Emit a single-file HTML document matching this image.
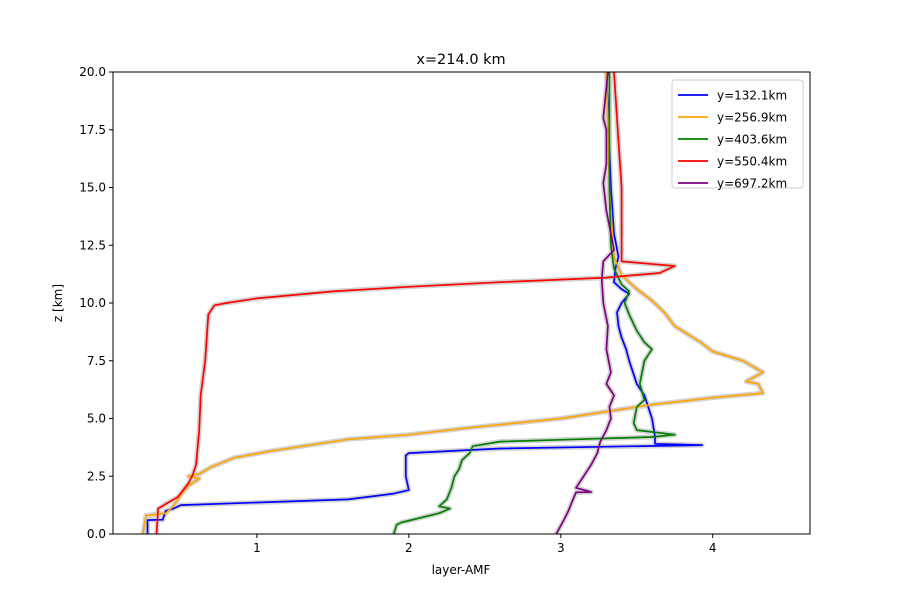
<!DOCTYPE html>
<html><head><meta charset="utf-8"><style>body{margin:0;background:#fff}svg{font-family:"DejaVu Sans","Liberation Sans",sans-serif}</style></head>
<body>
<svg id="chart" width="900" height="600" xmlns="http://www.w3.org/2000/svg">
<rect width="900" height="600" fill="#fff"/>
<g id="bands"></g><g id="lines"></g><g id="axes"></g><g id="legend"></g>
</svg>
<script>
const seriesNames=["y=132.1km","y=256.9km","y=403.6km","y=550.4km","y=697.2km"];
const seriesColors=["blue","orange","green","red","purple"];
const blueX=[0.28,0.28,0.38,0.40,0.45,0.50,1.6,1.9,2.0,1.98,1.98,2.0,2.6,3.93,3.62,3.62,3.6,3.55,3.5,3.45,3.43,3.4,3.38,3.37,3.4,3.45,3.4,3.35,3.36,3.38,3.35,3.33,3.3];
const blueZ=[0,0.6,0.62,1.0,1.1,1.25,1.5,1.75,1.9,2.5,3.4,3.5,3.7,3.85,3.9,4.2,5.0,6.0,6.5,7.5,8.0,8.5,9.0,9.6,10.0,10.4,10.6,10.9,11.5,12,13,15,20];
const orangeX=[0.25,0.27,0.4,0.45,0.5,0.55,0.62,0.55,0.62,0.7,0.85,1.1,1.3,1.6,2.0,2.4,2.7,3.0,3.3,3.6,4.0,4.33,4.3,4.22,4.33,4.2,4.0,3.92,3.75,3.68,3.6,3.5,3.4,3.35,3.32,3.3];
const orangeZ=[0,0.8,0.9,1.2,1.7,2.1,2.4,2.5,2.6,2.9,3.3,3.6,3.8,4.1,4.3,4.6,4.8,5.0,5.3,5.6,5.9,6.1,6.5,6.6,7.0,7.5,7.9,8.3,9.0,9.6,10.1,10.6,11.2,12,15,20];
const greenX=[1.9,1.92,1.95,2.2,2.27,2.2,2.25,2.28,2.3,2.33,2.35,2.4,2.42,2.6,3.1,3.6,3.75,3.5,3.48,3.5,3.55,3.52,3.55,3.6,3.55,3.5,3.45,3.42,3.45,3.4,3.35,3.33,3.32,3.32];
const greenZ=[0,0.4,0.5,0.9,1.1,1.2,1.5,2.0,2.5,2.8,3.2,3.5,3.8,4.0,4.1,4.2,4.3,4.5,4.8,5.5,5.8,6.5,7.5,8.0,8.3,8.8,9.5,10,10.5,10.8,11.5,12.5,15,20];
const redX=[0.34,0.35,0.4,0.48,0.55,0.58,0.6,0.62,0.63,0.65,0.66,0.68,0.72,0.8,1.0,1.5,2.0,2.6,3.3,3.65,3.75,3.4,3.4,3.4,3.38,3.35];
const redZ=[0,1.1,1.3,1.6,2.2,2.6,3,4.5,6,7.0,7.5,9.5,9.9,10.0,10.2,10.5,10.7,10.9,11.1,11.3,11.6,11.8,12.5,15,17,20];
const purpleX=[2.97,3.02,3.05,3.08,3.1,3.2,3.1,3.15,3.2,3.24,3.26,3.3,3.33,3.32,3.35,3.3,3.33,3.3,3.31,3.28,3.27,3.28,3.35,3.3,3.28,3.3,3.3,3.28,3.31];
const purpleZ=[0,0.6,1.0,1.5,1.8,1.82,2.0,2.5,3.0,3.5,4.0,4.5,5.0,5.5,6.0,6.5,7.0,8.0,9.0,10.0,11.0,11.8,12.3,14,15.2,16,17.5,18,20];
const xTicks=[1,2,3,4];
const yTicks=[0,2.5,5,7.5,10,12.5,15,17.5,20];
const yTickLabels=["0.0","2.5","5.0","7.5","10.0","12.5","15.0","17.5","20.0"];
const allX=[blueX,orangeX,greenX,redX,purpleX], allZ=[blueZ,orangeZ,greenZ,redZ,purpleZ];
const L=113,R=810,T=72,B=534,xmin=0.053,xmax=4.64,ymin=0,ymax=20;
const sx=v=>L+(v-xmin)/(xmax-xmin)*(R-L), sy=v=>B-(v-ymin)/(ymax-ymin)*(B-T);
const NS="http://www.w3.org/2000/svg";
function mk(t,a,p){const e=document.createElementNS(NS,t);for(const k in a)e.setAttribute(k,a[k]);p.appendChild(e);return e;}
const bands=document.getElementById('bands'),lines=document.getElementById('lines'),axes=document.getElementById('axes'),leg=document.getElementById('legend');
allX.forEach((xs,i)=>{
  const pts=xs.map((v,j)=>sx(v).toFixed(1)+","+sy(allZ[i][j]).toFixed(1)).join(" ");
  const b=mk('polyline',{points:pts,fill:'none',stroke:'#d3d3d3','stroke-width':5,'stroke-linejoin':'round'},bands);
  
  
  const l=mk('polyline',{points:pts,fill:'none',stroke:seriesColors[i],'stroke-width':1.7,'stroke-linejoin':'round'},lines);
  
  
});
const fr=mk('rect',{x:L,y:T,width:R-L,height:B-T,fill:'none',stroke:'#000','stroke-width':1},axes);


xTicks.forEach(v=>{
  mk('line',{x1:sx(v),x2:sx(v),y1:B,y2:B+4,stroke:'#000'},axes);
  const t=mk('text',{x:sx(v),y:B+18,'text-anchor':'middle','font-size':12},axes);t.textContent=v;
  
  
});
yTicks.forEach((v,i)=>{
  mk('line',{x1:L-4,x2:L,y1:sy(v),y2:sy(v),stroke:'#000'},axes);
  const t=mk('text',{x:L-7,y:sy(v)+4,'text-anchor':'end','font-size':12},axes);t.textContent=yTickLabels[i];
  
  
});
let t=mk('text',{x:461,y:64,'text-anchor':'middle','font-size':14.5},axes);t.textContent="x=214.0 km";


t=mk('text',{x:461,y:574,'text-anchor':'middle','font-size':12},axes);t.textContent="layer-AMF";


t=mk('text',{x:62,y:303,'text-anchor':'middle','font-size':12,transform:'rotate(-90 62 303)'},axes);t.textContent="z [km]";


const lb=mk('rect',{x:672,y:80,width:131,height:108,rx:3,fill:'#fff','fill-opacity':0.8,stroke:'#ccc'},leg);


seriesNames.forEach((n,i)=>{
  const y=95+i*22;
  const g=mk('g',{},leg);
  
  
  mk('line',{x1:678,x2:708,y1:y,y2:y,stroke:seriesColors[i],'stroke-width':1.8},g);
  const tx=mk('text',{x:717,y:y+4.5,'font-size':12},g);tx.textContent=n;
});
</script>
</body></html>
